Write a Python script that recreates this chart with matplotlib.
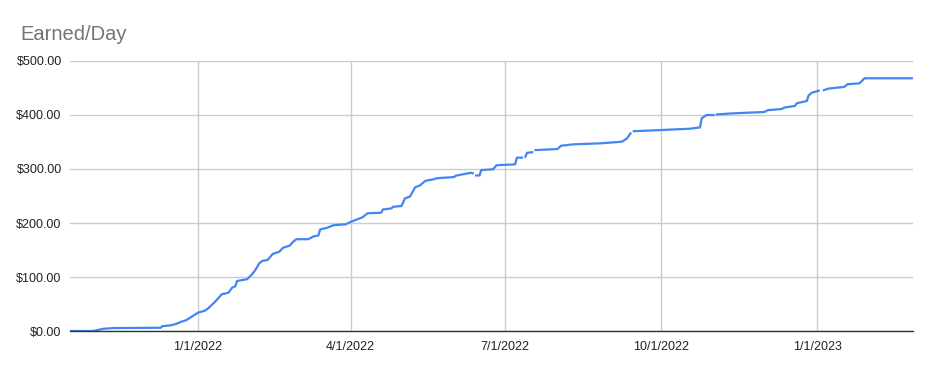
import numpy as np
import pandas as pd
import matplotlib
matplotlib.use('Agg')
import matplotlib.pyplot as plt
import matplotlib.dates as mdates
from matplotlib.ticker import FuncFormatter

plt.rcParams['font.family'] = ['Liberation Sans', 'DejaVu Sans']

# cumulative earnings (None = missing day, line breaks there)
dates = [
    '2021-10-17', '2021-10-31', '2021-11-06', '2021-11-12', '2021-12-10', '2021-12-11',
    '2021-12-16', '2021-12-19', '2021-12-22', '2021-12-25', '2021-12-29', '2022-01-01',
    '2022-01-05', '2022-01-07', '2022-01-11', '2022-01-15', '2022-01-19', '2022-01-21',
    '2022-01-23', '2022-01-24', '2022-01-30', '2022-02-02', '2022-02-04', '2022-02-06',
    '2022-02-08', '2022-02-11', '2022-02-14', '2022-02-18', '2022-02-20', '2022-02-24',
    '2022-02-26', '2022-02-28', '2022-03-07', '2022-03-10', '2022-03-13', '2022-03-14',
    '2022-03-18', '2022-03-22', '2022-03-29', '2022-04-01', '2022-04-05', '2022-04-08',
    '2022-04-11', '2022-04-19', '2022-04-20', '2022-04-25', '2022-04-26', '2022-05-01',
    '2022-05-03', '2022-05-06', '2022-05-09', '2022-05-12', '2022-05-15', '2022-05-20',
    '2022-05-22', '2022-06-01', '2022-06-02', '2022-06-07', '2022-06-11', '2022-06-12',
    '2022-06-13', '2022-06-14', '2022-06-16', '2022-06-17', '2022-06-24', '2022-06-26',
    '2022-07-07', '2022-07-08', '2022-07-11', '2022-07-12', '2022-07-13', '2022-07-14',
    '2022-07-17', '2022-07-18', '2022-07-19', '2022-08-01', '2022-08-03', '2022-08-10',
    '2022-08-26', '2022-09-06', '2022-09-08', '2022-09-11', '2022-09-13', '2022-09-14',
    '2022-09-15', '2022-09-30', '2022-10-18', '2022-10-24', '2022-10-25', '2022-10-28',
    '2022-11-01', '2022-11-02', '2022-11-03', '2022-11-12', '2022-12-01', '2022-12-03',
    '2022-12-11', '2022-12-13', '2022-12-19', '2022-12-20', '2022-12-26', '2022-12-27',
    '2022-12-29', '2023-01-02', '2023-01-03', '2023-01-05', '2023-01-08', '2023-01-17',
    '2023-01-19', '2023-01-26', '2023-01-29', '2023-02-26',
]
earned = [
    0, 0, 4, 5.5, 6, 9,
    10.5, 13, 17, 20, 28, 34,
    37.6, 42, 54, 68, 71, 80,
    83, 92.6, 96, 105.5, 114, 125,
    130, 131.5, 142.6, 147, 154, 158,
    165, 170, 170, 175, 177, 188,
    191, 196, 197.5, 202, 207, 210.6,
    218, 219, 225, 227, 230, 231.5,
    245.6, 249, 266, 270, 278, 281,
    283, 285, 287.6, 290.7, 293, 292,
    None, 288, 288, 298, 299.5, 307,
    308.6, 321, 321, None, 322.8, 330,
    331, None, 335, 337, 343, 345.6,
    347.5, 350, 350.6, 356.8, 366, None,
    370, 372, 374.6, 377, 394, 400,
    400, None, 401, 403, 405.6, 409,
    411, 414, 416.7, 421.6, 426, 436,
    441.3, 445, None, 446, 449, 452,
    457, 458.6, 468, 468,
]

x = pd.to_datetime(dates)
y = np.array([np.nan if v is None else v for v in earned], dtype=float)

fig = plt.figure(figsize=(9.32, 3.71), dpi=100)
ax = fig.add_axes([0.0751, 0.1078, 0.9045, 0.7278])

ax.plot(x, y, color='#4285F4', linewidth=1.6, solid_joinstyle='round')

ax.set_xlim(pd.Timestamp('2021-10-17 12:00'), pd.Timestamp('2023-02-26 14:00'))
ax.set_ylim(0, 500)

ax.set_yticks(np.arange(0, 501, 100))
ax.yaxis.set_major_formatter(FuncFormatter(lambda v, p: '${:,.2f}'.format(v)))
ax.set_xticks(pd.to_datetime(['2022-01-01', '2022-04-01', '2022-07-01', '2022-10-01', '2023-01-01']))
ax.xaxis.set_major_formatter(FuncFormatter(
    lambda v, p: '{d.month}/{d.day}/{d.year}'.format(d=mdates.num2date(v))))

ax.grid(True, color='#cccccc', linewidth=1)
ax.set_axisbelow(True)
ax.tick_params(length=0, labelsize=9, colors='#222222', pad=6)
ax.tick_params(axis='x', pad=7)
for side in ['top', 'right', 'left']:
    ax.spines[side].set_visible(False)
ax.spines['bottom'].set_color('#333333')
ax.spines['bottom'].set_linewidth(1)
ax.spines['bottom'].set_zorder(3)

fig.text(0.0215, 0.892, 'Earned/Day', fontsize=14.5, color='#757575', ha='left', va='baseline')

fig.savefig('out.png', dpi=100, facecolor='white')
